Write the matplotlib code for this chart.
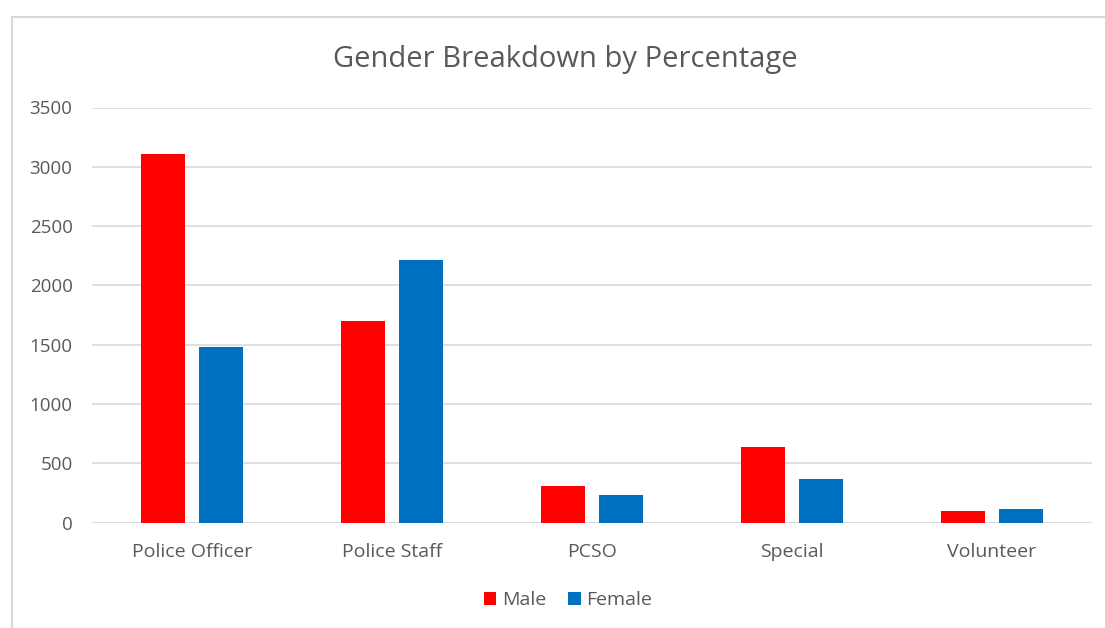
import matplotlib
matplotlib.use("Agg")
import matplotlib.pyplot as plt
from matplotlib.patches import Rectangle
import numpy as np

categories = ["Police Officer", "Police Staff", "PCSO", "Special", "Volunteer"]
male = [3110, 1700, 310, 640, 100]
female = [1480, 2210, 230, 370, 110]
yticks = [0, 500, 1000, 1500, 2000, 2500, 3000, 3500]

plt.rcParams['font.family'] = ['Open Sans', 'DejaVu Sans']
W, H = 1105, 628
fig = plt.figure(figsize=(W/100, H/100), dpi=100)
fig.patch.set_facecolor('white')

# chart border (partially visible)
fig.add_artist(Rectangle((12/W, -0.1), 1.2, (H-17)/H + 0.1, transform=fig.transFigure,
                         fill=False, edgecolor='#d9d9d9', linewidth=1.5))

left, right = 92/W, 1092/W
bottom, top = 1 - 522.5/H, 1 - 107.5/H
ax = fig.add_axes([left, bottom, right-left, top-bottom])
x = np.arange(len(categories))
bw = 0.22
off = 0.143
ax.bar(x - off, male, bw, color='#ff0000', label='Male', zorder=3)
ax.bar(x + off, female, bw, color='#0070c0', label='Female', zorder=3)
ax.set_xlim(-0.5, len(categories) - 0.5)
ax.set_ylim(0, 3500)
ax.set_yticks(yticks)
ax.set_yticklabels([str(v) for v in yticks])
ax.set_xticks(x)
ax.set_xticklabels(categories)
ax.grid(axis='y', color='#d9d9d9', linewidth=1.2, zorder=0)
for s in ax.spines.values():
    s.set_visible(False)
ax.axhline(0, color='#d9d9d9', linewidth=1.2, zorder=2)
ax.tick_params(axis='y', length=0, labelsize=13.5, colors='#595959', pad=14)
ax.tick_params(axis='x', length=0, labelsize=14, colors='#595959', pad=15)

fig.text(565/W, 1 - 59/H, "Gender Breakdown by Percentage", ha='center', va='center',
         fontsize=21, color='#595959')
leg = fig.legend(loc='center', bbox_to_anchor=(568/W, 1 - 600/H), ncol=2, frameon=False,
                 fontsize=14, handlelength=0.65, handleheight=0.65, handletextpad=0.3,
                 columnspacing=1.1)
for t in leg.get_texts():
    t.set_color('#595959')

fig.savefig("out.png", dpi=100, facecolor='white')
